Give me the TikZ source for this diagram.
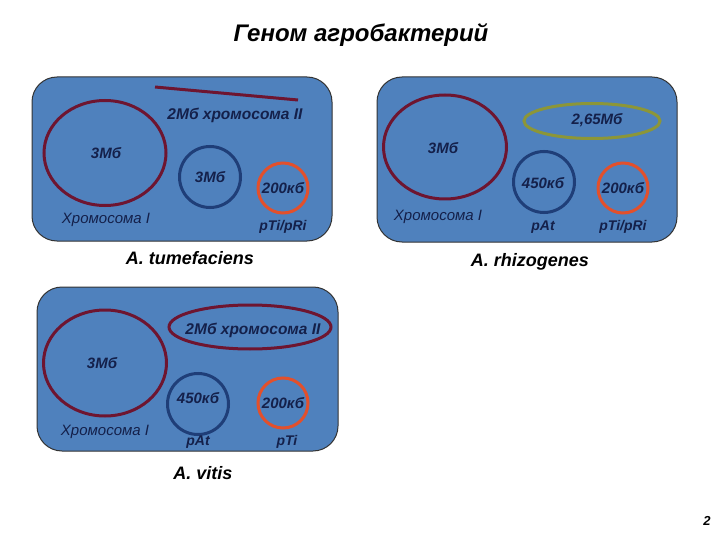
\documentclass[tikz,border=0pt]{standalone}
\usepackage{fontspec}
\setmainfont{Liberation Sans}
\usetikzlibrary{shapes.geometric}
\definecolor{panel}{HTML}{4F81BD}
\definecolor{txt}{HTML}{14204A}
\definecolor{chrom}{HTML}{6E1530}
\definecolor{plasb}{HTML}{1F3E78}
\definecolor{plasr}{HTML}{E2502C}
\definecolor{olive}{HTML}{8C9638}
\tikzset{
  panelbox/.style={draw=black!80, line width=1pt, fill=panel, rounded corners=25pt, inner sep=0pt},
  ring/.style={ellipse, draw, line width=3pt, inner sep=0pt},
  num/.style={text=txt, font=\fontsize{15}{17}\selectfont\bfseries\itshape, inner sep=0pt},
  lab/.style={text=txt, font=\fontsize{15}{17}\selectfont\itshape, inner sep=0pt},
  plab/.style={text=txt, font=\fontsize{14}{17}\selectfont\bfseries\itshape, inner sep=0pt},
  chrlab/.style={text=txt, font=\fontsize{15.5}{17}\selectfont\bfseries\itshape, inner sep=0pt},
  species/.style={text=black, font=\fontsize{18}{20}\selectfont\bfseries\itshape, inner sep=0pt},
}
\begin{document}
\begin{tikzpicture}[x=1pt,y=-1pt]
\useasboundingbox (0,0) rectangle (720,540);
\fill[white] (0,0) rectangle (720,540);

\node[text=black, font=\fontsize{24}{27}\selectfont\bfseries\itshape] (title) at (361,35) {Геном агробактерий};

% Panel 1: A. tumefaciens
\node[panelbox, minimum width=300pt, minimum height=164pt] (p1) at (182,159) {};
\node[ring, draw=chrom, minimum width=122pt, minimum height=105pt] (c1) at (105,153) {};
\node[num] (c1t) at (106,153) {3Мб};
\coordinate (l1a) at (155,87);
\coordinate (l1b) at (298,100);
\draw[chrom, line width=3pt] (l1a) -- (l1b);
\node[chrlab] (c2t) at (235,115) {2Мб хромосома II};
\node[ring, draw=plasb, minimum width=61pt, minimum height=61pt] (b1) at (210,177) {};
\node[num] (b1t) at (210,177) {3Мб};
\node[ring, draw=plasr, minimum width=50pt, minimum height=50pt] (r1) at (283,188) {};
\node[num] (r1t) at (283,188) {200кб};
\node[lab] (h1) at (106,220) {Хромосома I};
\node[plab] (pt1) at (283,227) {pTi/pRi};
\node[species] (s1) at (190,258) {A. tumefaciens};

% Panel 2: A. rhizogenes
\node[panelbox, minimum width=300pt, minimum height=165pt] (p2) at (527,159.5) {};
\node[ring, draw=chrom, minimum width=123pt, minimum height=104pt] (c3) at (445,147) {};
\node[num] (c3t) at (443,148) {3Мб};
\node[ring, draw=olive, minimum width=136pt, minimum height=35pt] (g2) at (592,121) {};
\node[num] (g2t) at (597,120) {2,65Мб};
\node[ring, draw=plasb, minimum width=61pt, minimum height=61pt] (b2) at (544,182) {};
\node[num] (b2t) at (543,183) {450кб};
\node[ring, draw=plasr, minimum width=50pt, minimum height=50pt] (r2) at (623,188) {};
\node[num] (r2t) at (623,188) {200кб};
\node[lab] (h2) at (438,217) {Хромосома I};
\node[plab] (pa2) at (543,227) {pAt};
\node[plab] (pt2) at (623,227) {pTi/pRi};
\node[species] (s2) at (530,262) {A. rhizogenes};

% Panel 3: A. vitis
\node[panelbox, minimum width=301pt, minimum height=164pt] (p3) at (187.5,369) {};
\node[ring, draw=chrom, minimum width=123pt, minimum height=106pt] (c5) at (105,363) {};
\node[num] (c5t) at (102,363) {3Мб};
\node[ring, draw=chrom, minimum width=162pt, minimum height=44pt] (c6) at (250,327) {};
\node[chrlab] (c6t) at (253,330) {2Мб хромосома II};
\node[ring, draw=plasb, minimum width=61pt, minimum height=61pt] (b3) at (198,404) {};
\node[num] (b3t) at (198,398) {450кб};
\node[ring, draw=plasr, minimum width=50pt, minimum height=50pt] (r3) at (283,403) {};
\node[num] (r3t) at (283,403) {200кб};
\node[lab] (h3) at (105,432) {Хромосома I};
\node[plab] (pa3) at (198,442) {pAt};
\node[plab] (pt3) at (287,442) {pTi};
\node[species] (s3) at (203,473) {A. vitis};

\node[text=black, font=\fontsize{13}{15}\selectfont\bfseries\itshape] (pg) at (707,521) {2};
\end{tikzpicture}
\end{document}
